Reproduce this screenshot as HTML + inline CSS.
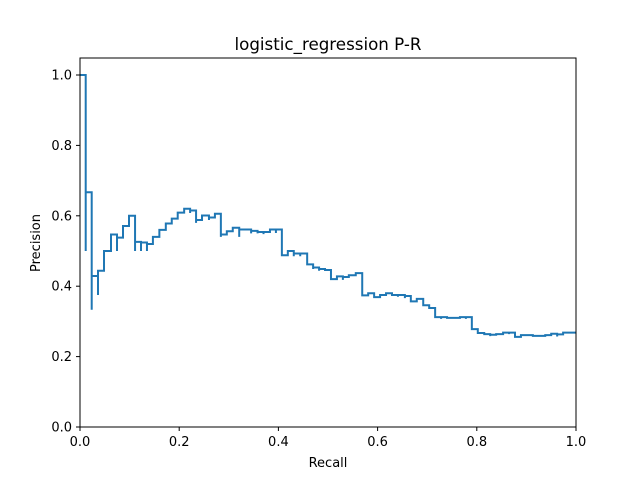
<!DOCTYPE html>
<html><head><meta charset="utf-8"><style>
body{margin:0;background:#fff}
svg{display:block;font-family:"DejaVu Sans","Liberation Sans",sans-serif}
</style></head><body>
<svg id="chart" width="640" height="480">
<rect width="640" height="480" fill="#fff"/>
<text x="328" y="50" font-size="16.7" text-anchor="middle">logistic_regression P-R</text>
<g id="ticks"></g>
<path id="curve" fill="none" stroke="#1f77b4" stroke-width="2" stroke-linejoin="miter"/>
<rect x="80" y="58" width="496" height="369" fill="none" stroke="#000" stroke-width="1"/>
<text x="328" y="467" font-size="13" text-anchor="middle">Recall</text>
<text x="0" y="0" font-size="13" text-anchor="middle" transform="translate(40,243) rotate(-90)">Precision</text>
</svg>
<script>
const recall=[0,0.0115,0.0115,0.0236,0.0236,0.0363,0.0363,0.0484,0.0625,0.0746,0.0746,0.0867,0.0988,0.111,0.111,0.123,0.123,0.135,0.135,0.147,0.16,0.173,0.185,0.197,0.21,0.222,0.222,0.234,0.234,0.246,0.26,0.26,0.272,0.284,0.284,0.296,0.308,0.321,0.321,0.345,0.345,0.358,0.358,0.37,0.37,0.383,0.395,0.395,0.407,0.419,0.431,0.431,0.444,0.444,0.458,0.47,0.47,0.482,0.482,0.494,0.506,0.518,0.53,0.53,0.542,0.556,0.569,0.581,0.593,0.605,0.617,0.629,0.641,0.641,0.655,0.655,0.667,0.679,0.692,0.704,0.716,0.728,0.728,0.74,0.74,0.754,0.754,0.766,0.778,0.778,0.79,0.802,0.815,0.827,0.827,0.839,0.853,0.865,0.865,0.877,0.889,0.901,0.913,0.925,0.938,0.95,0.962,0.962,0.974,1.0];
const precision=[1.0,0.5,0.667,0.333,0.429,0.375,0.444,0.5,0.547,0.5,0.538,0.571,0.6,0.5,0.526,0.5,0.524,0.5,0.52,0.54,0.56,0.578,0.592,0.609,0.62,0.608,0.615,0.58,0.588,0.601,0.588,0.595,0.606,0.54,0.547,0.556,0.566,0.54,0.561,0.55,0.557,0.55,0.554,0.548,0.554,0.561,0.551,0.561,0.488,0.5,0.485,0.493,0.485,0.493,0.462,0.449,0.453,0.444,0.449,0.446,0.42,0.428,0.418,0.426,0.431,0.437,0.374,0.38,0.369,0.375,0.38,0.375,0.37,0.375,0.366,0.372,0.357,0.364,0.346,0.338,0.312,0.307,0.312,0.307,0.31,0.307,0.31,0.312,0.307,0.312,0.278,0.267,0.264,0.258,0.262,0.264,0.268,0.264,0.268,0.256,0.261,0.261,0.259,0.259,0.261,0.265,0.257,0.263,0.268,0.268];
const xTicks=[0,0.2,0.4,0.6,0.8,1.0];
const yTicks=[0,0.2,0.4,0.6,0.8,1.0];
const xTickLabels=["0.0","0.2","0.4","0.6","0.8","1.0"];
const yTickLabels=["0.0","0.2","0.4","0.6","0.8","1.0"];
const X0=80,X1=576,Y0=427,Y1=75;
function sx(v){return X0+(X1-X0)*v;}
function sy(v){return Y0-(Y0-Y1)*v;}
const NS="http://www.w3.org/2000/svg";
const tg=document.getElementById('ticks');
xTicks.forEach((t,i)=>{
  const l=document.createElementNS(NS,'line');
  l.setAttribute('x1',sx(t));l.setAttribute('x2',sx(t));l.setAttribute('y1',427);l.setAttribute('y2',431);l.setAttribute('stroke','#000');
  
  
  tg.appendChild(l);
  const tx=document.createElementNS(NS,'text');
  tx.setAttribute('x',sx(t));tx.setAttribute('y',446);tx.setAttribute('font-size','13');tx.setAttribute('text-anchor','middle');
  tx.textContent=xTickLabels[i];
  
  
  tg.appendChild(tx);
});
yTicks.forEach((t,i)=>{
  const l=document.createElementNS(NS,'line');
  l.setAttribute('x1',76);l.setAttribute('x2',80);l.setAttribute('y1',sy(t));l.setAttribute('y2',sy(t));l.setAttribute('stroke','#000');
  
  
  tg.appendChild(l);
  const tx=document.createElementNS(NS,'text');
  tx.setAttribute('x',72);tx.setAttribute('y',sy(t)+4.5);tx.setAttribute('font-size','13');tx.setAttribute('text-anchor','end');
  tx.textContent=yTickLabels[i];
  
  
  tg.appendChild(tx);
});
let d='M'+sx(recall[0])+','+sy(precision[0]);
for(let i=1;i<recall.length;i++){
  d+=' H'+sx(recall[i])+' V'+sy(precision[i]);
}
document.getElementById('curve').setAttribute('d',d);
</script>
</body></html>
